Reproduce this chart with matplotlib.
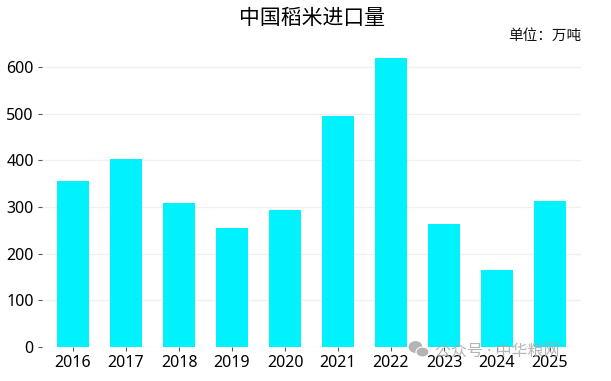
import matplotlib
matplotlib.use('Agg')
import matplotlib.pyplot as plt
from matplotlib.patches import Ellipse

plt.rcParams['font.family'] = ['Noto Sans', 'Noto Sans CJK SC', 'DejaVu Sans']

years = ['2016', '2017', '2018', '2019', '2020', '2021', '2022', '2023', '2024', '2025']
imports = [356, 403, 308, 255, 294, 495, 619, 263, 165, 313]
y_ticks = [0, 100, 200, 300, 400, 500, 600]

W, H = 611, 381
fig = plt.figure(figsize=(W / 100, H / 100), dpi=100)
ax = fig.add_axes([42 / W, 1 - 347 / H, (581 - 42) / W, (347 - 58) / H])

ax.bar(range(len(years)), imports, width=0.6, color='#00f2ff', zorder=3)
ax.set_xlim(-0.585, 9.585)
ax.set_ylim(0, 619.5)
ax.set_xticks(range(len(years)))
ax.set_xticklabels(years)
ax.set_yticks(y_ticks)
ax.tick_params(axis='both', labelsize=11.5, length=3, width=0.8, color='#555555', pad=3)
ax.grid(axis='y', color='#f0f0f0', linewidth=1, zorder=0)
for side in ax.spines.values():
    side.set_visible(False)

fig.text(312 / W, 1 - 18 / H, '中国稻米进口量', fontsize=15, ha='center', va='center', color='black')
fig.text(581 / W, 1 - 36.5 / H, '单位：万吨', fontsize=10.5, ha='right', va='center', color='#111111')

# watermark sits on top of the chart in the source image
fig.text(435 / W, 1 - 352 / H, '公众号 · 中华粮网', fontsize=11.5, ha='left', va='center',
         color='#a8a8a8', alpha=0.85, zorder=10)
for cx, cy, w, h in [(415.5, 347, 15, 13), (422.5, 352, 13, 10)]:
    fig.add_artist(Ellipse((cx / W, 1 - cy / H), w / W, h / H, transform=fig.transFigure,
                           facecolor='#b4b4b4', edgecolor='white', linewidth=0.8, zorder=10))

fig.savefig('out.png', dpi=100)
